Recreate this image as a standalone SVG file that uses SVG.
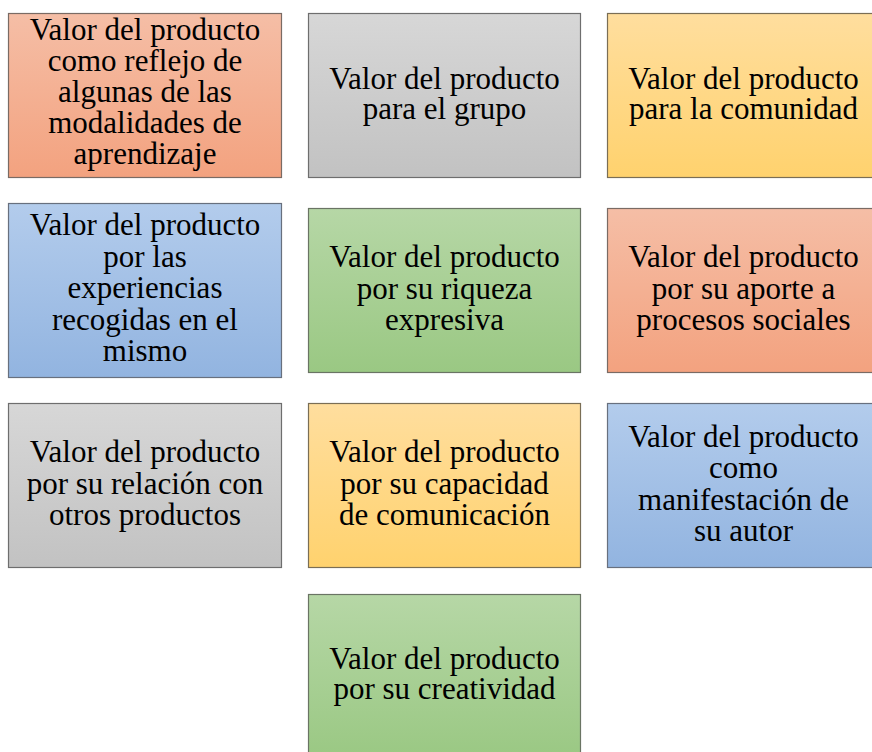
<svg xmlns="http://www.w3.org/2000/svg" width="872" height="752" viewBox="0 0 872 752">
<defs>
<linearGradient id="gSalmon" x1="0" y1="0" x2="0" y2="1"><stop offset="0" stop-color="#F5BEA6"/><stop offset="1" stop-color="#F3A27F"/></linearGradient>
<linearGradient id="gGrey" x1="0" y1="0" x2="0" y2="1"><stop offset="0" stop-color="#D7D7D7"/><stop offset="1" stop-color="#C2C2C2"/></linearGradient>
<linearGradient id="gYellow" x1="0" y1="0" x2="0" y2="1"><stop offset="0" stop-color="#FFDE9E"/><stop offset="1" stop-color="#FFD26E"/></linearGradient>
<linearGradient id="gBlue" x1="0" y1="0" x2="0" y2="1"><stop offset="0" stop-color="#B3CCEC"/><stop offset="1" stop-color="#92B4E0"/></linearGradient>
<linearGradient id="gGreen" x1="0" y1="0" x2="0" y2="1"><stop offset="0" stop-color="#B6D7A6"/><stop offset="1" stop-color="#9AC883"/></linearGradient>
</defs>
<style>
rect{stroke-width:1.2}
.salmon{fill:url(#gSalmon);stroke:#7A6B64}
.grey{fill:url(#gGrey);stroke:#6E6E6E}
.yellow{fill:url(#gYellow);stroke:#7A6E55}
.blue{fill:url(#gBlue);stroke:#68707E}
.green{fill:url(#gGreen);stroke:#6A7464}
text{font-family:"Liberation Serif","Times New Roman",serif;font-size:31px;fill:#000;text-anchor:middle}
</style>
<rect width="872" height="752" fill="#ffffff"/>
<g id="connectors"/>
<g id="n1">
<rect class="salmon" x="8.5" y="13.5" width="273" height="164"/>
<text x="145" y="40">Valor del producto</text>
<text x="145" y="71">como reflejo de</text>
<text x="145" y="102">algunas de las</text>
<text x="145" y="133">modalidades de</text>
<text x="145" y="164">aprendizaje</text>
</g>
<g id="n2">
<rect class="grey" x="308.5" y="13.5" width="272" height="164"/>
<text x="444.5" y="88.5">Valor del producto</text>
<text x="444.5" y="119">para el grupo</text>
</g>
<g id="n3">
<rect class="yellow" x="607.5" y="13.5" width="273" height="164"/>
<text x="743.5" y="88.5">Valor del producto</text>
<text x="743.5" y="119">para la comunidad</text>
</g>
<g id="n4">
<rect class="blue" x="8.5" y="203.5" width="273" height="174"/>
<text x="145" y="235">Valor del producto</text>
<text x="145" y="266.5">por las</text>
<text x="145" y="298">experiencias</text>
<text x="145" y="329.5">recogidas en el</text>
<text x="145" y="361">mismo</text>
</g>
<g id="n5">
<rect class="green" x="308.5" y="208.5" width="272" height="164"/>
<text x="444.5" y="267">Valor del producto</text>
<text x="444.5" y="298.5">por su riqueza</text>
<text x="444.5" y="330">expresiva</text>
</g>
<g id="n6">
<rect class="salmon" x="607.5" y="208.5" width="273" height="164"/>
<text x="743.5" y="267">Valor del producto</text>
<text x="743.5" y="298.5">por su aporte a</text>
<text x="743.5" y="330">procesos sociales</text>
</g>
<g id="n7">
<rect class="grey" x="8.5" y="403.5" width="273" height="164"/>
<text x="145" y="462">Valor del producto</text>
<text x="145" y="493.5">por su relación con</text>
<text x="145" y="525">otros productos</text>
</g>
<g id="n8">
<rect class="yellow" x="308.5" y="403.5" width="272" height="164"/>
<text x="444.5" y="462">Valor del producto</text>
<text x="444.5" y="493.5">por su capacidad</text>
<text x="444.5" y="525">de comunicación</text>
</g>
<g id="n9">
<rect class="blue" x="607.5" y="403.5" width="273" height="164"/>
<text x="743.5" y="446.5">Valor del producto</text>
<text x="743.5" y="478">como</text>
<text x="743.5" y="509.5">manifestación de</text>
<text x="743.5" y="541">su autor</text>
</g>
<g id="n10">
<rect class="green" x="308.5" y="594.5" width="272" height="164"/>
<text x="444.5" y="668.5">Valor del producto</text>
<text x="444.5" y="699">por su creatividad</text>
</g>
</svg>
